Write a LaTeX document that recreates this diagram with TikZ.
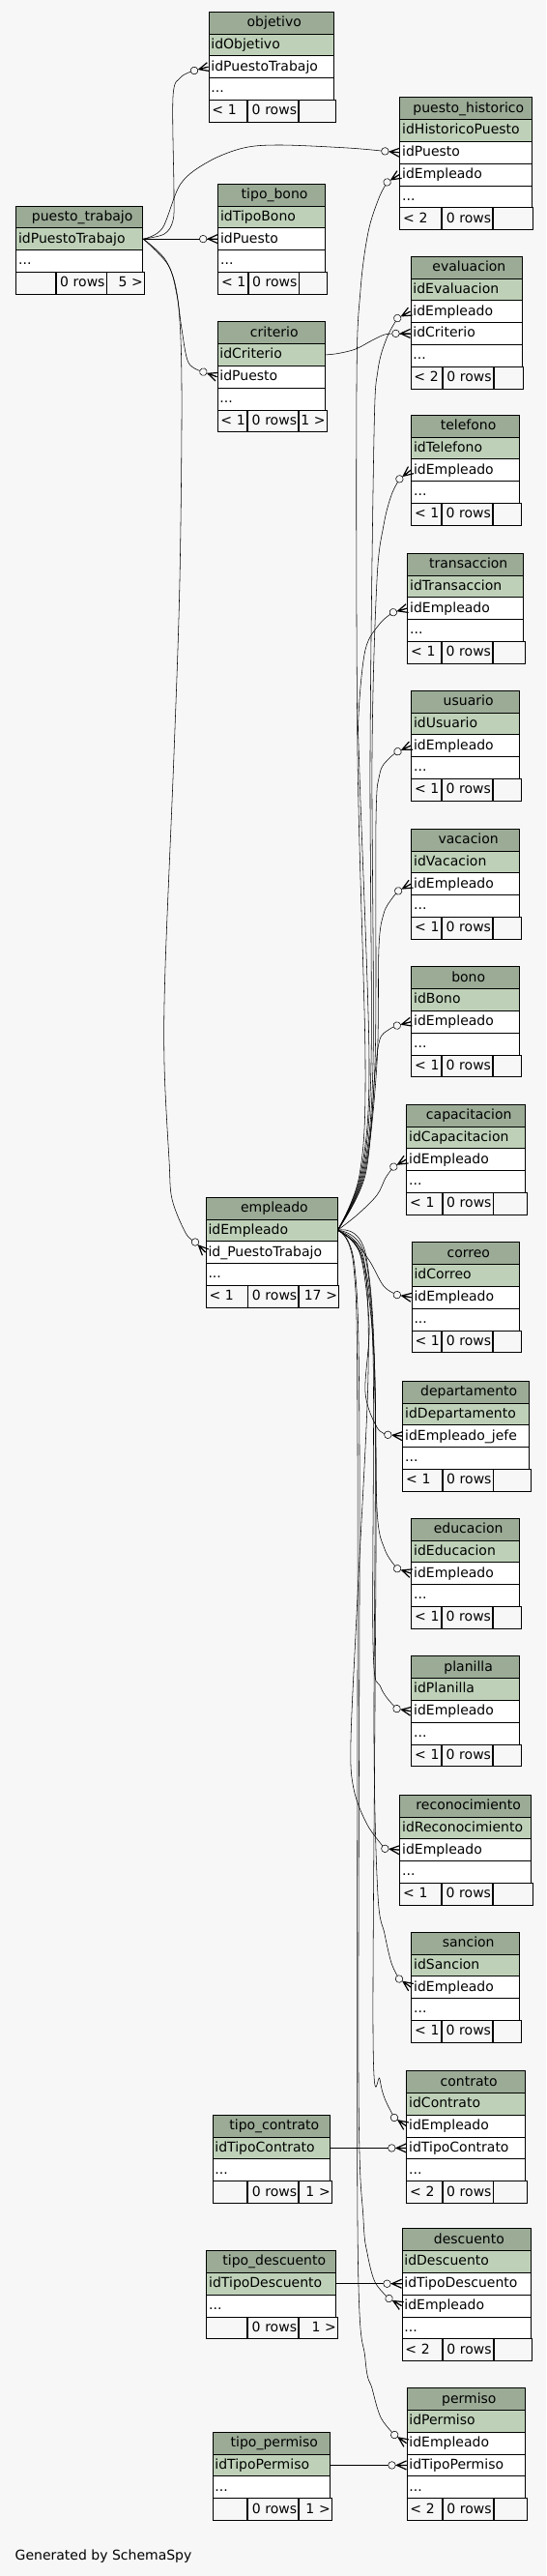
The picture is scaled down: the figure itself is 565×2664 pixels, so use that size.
\documentclass[tikz,border=0pt]{standalone}
\usepackage{fontspec}
\setmainfont{DejaVu Sans}
\usetikzlibrary{calc}
\definecolor{bgc}{HTML}{F7F7F7}
\definecolor{hdrc}{HTML}{9BAB96}
\definecolor{pkc}{HTML}{BED1B8}
\pgfdeclarelayer{bglayer}
\pgfdeclarelayer{edges}
\pgfsetlayers{bglayer,edges,main}

\tikzset{
  cell/.style={draw=black, line width=0.8pt, anchor=north west, minimum height=22.8,
    inner xsep=2.5pt, inner ysep=0pt, text height=11pt, text depth=3pt,
    font=\fontsize{14}{16}\selectfont},
  fcell/.style={cell, fill=bgc, inner xsep=1.5pt},
  edge/.style={line width=0.55pt, draw=black},
  crow/.style={line width=1.2pt, draw=black},
}

\newcommand{\tblhead}[6]{%
  \xdef\TBn{#1}\xdef\TBx{#2}\xdef\TBW{#4}%
  \pgfmathsetmacro{\TBw}{#4-5}\global\let\TBw\TBw
  \node[cell,fill=hdrc,align=center,text width=\TBw pt] (#1-h) at (#2,#3) {\hspace*{6pt}#5};
  \pgfmathsetmacro{\TBy}{#3+22.8}\global\let\TBy\TBy
  \node[cell,fill=pkc,align=left,text width=\TBw pt] (#1-p) at (\TBx,\TBy) {#6};
  \pgfmathsetmacro{\TBy}{\TBy+22.8}\global\let\TBy\TBy
}
\newcommand{\tblrow}[2]{%
  \node[cell,fill=white,align=left,text width=\TBw pt] (\TBn-#1) at (\TBx,\TBy) {#2};
  \pgfmathsetmacro{\TBy}{\TBy+22.8}\global\let\TBy\TBy
}
\newcommand{\tblfoot}[2]{%
  \node[cell,fill=white,align=left,text width=\TBw pt] (\TBn-d) at (\TBx,\TBy) {...};
  \pgfmathsetmacro{\TBy}{\TBy+22.8}\global\let\TBy\TBy
  \pgfmathsetmacro{\TBl}{(\TBW-52)/2+1}\global\let\TBl\TBl
  \pgfmathsetmacro{\TBr}{\TBW-52-\TBl}\global\let\TBr\TBr
  \pgfmathsetmacro{\TBlw}{\TBl-3}\global\let\TBlw\TBlw
  \pgfmathsetmacro{\TBrw}{\TBr-3}\global\let\TBrw\TBrw
  \node[fcell,align=left,text width=\TBlw pt] (\TBn-fl) at (\TBx,\TBy) {\hspace*{2pt}#1};
  \node[fcell,align=right,text width=49pt] (\TBn-fm) at (\TBn-fl.north east) {0 rows};
  \node[fcell,align=right,text width=\TBrw pt] (\TBn-fr) at (\TBn-fm.north east) {#2};
}
\newcommand{\fk}[4]{%
  \coordinate (#1) at ($(#2)+(#3+180:15)$);
  \begin{pgfonlayer}{edges}
    \draw[edge] plot[smooth,tension=0.55] coordinates {#4 (#1)};
    \draw[edge] (#1) -- (#2);
  \end{pgfonlayer}
  \begin{scope}[shift={(#2)},rotate={-1*(#3)}]
    \draw[crow] (-10,0) -- (0,4.5) (-10,0) -- (0,0) (-10,0) -- (0,-4.5);
    \draw[edge,fill=bgc] (-15,0) circle[radius=3.8];
  \end{scope}
}

\begin{document}
\begin{tikzpicture}[x=1pt,y=-1pt]
\begin{pgfonlayer}{bglayer}
\fill[bgc] (0,0) rectangle (565,2664);
\end{pgfonlayer}
\useasboundingbox (0,0) rectangle (565,2664);

% tables
\tblhead{ob}{215.5}{11.7}{129.7}{objetivo}{idObjetivo}
\tblrow{1}{idPuestoTrabajo}
\tblfoot{< 1}{}

\tblhead{ph}{413.3}{100.3}{136.2}{puesto\_historico}{idHistoricoPuesto}
\tblrow{1}{idPuesto}
\tblrow{2}{idEmpleado}
\tblfoot{< 2}{}

\tblhead{tb}{225.2}{189.7}{111}{tipo\_bono}{idTipoBono}
\tblrow{1}{idPuesto}
\tblfoot{< 1}{}

\tblhead{pt}{16.2}{212.5}{131.2}{puesto\_trabajo}{idPuestoTrabajo}
\tblfoot{}{5 >}

\tblhead{ev}{424.5}{264.7}{115}{evaluacion}{idEvaluacion}
\tblrow{1}{idEmpleado}
\tblrow{2}{idCriterio}
\tblfoot{< 2}{}

\tblhead{cr}{224.5}{332.3}{111.7}{criterio}{idCriterio}
\tblrow{1}{idPuesto}
\tblfoot{< 1}{1 >}

\tblhead{te}{425.2}{428.7}{112.1}{telefono}{idTelefono}
\tblrow{1}{idEmpleado}
\tblfoot{< 1}{}

\tblhead{tr}{421.3}{571.7}{120}{transaccion}{idTransaccion}
\tblrow{1}{idEmpleado}
\tblfoot{< 1}{}

\tblhead{us}{425.2}{713.7}{112.1}{usuario}{idUsuario}
\tblrow{1}{idEmpleado}
\tblfoot{< 1}{}

\tblhead{va}{425.3}{856.7}{112}{vacacion}{idVacacion}
\tblrow{1}{idEmpleado}
\tblfoot{< 1}{}

\tblhead{bo}{425.3}{999.3}{112}{bono}{idBono}
\tblrow{1}{idEmpleado}
\tblfoot{< 1}{}

\tblhead{ca}{420.3}{1141.7}{123}{capacitacion}{idCapacitacion}
\tblrow{1}{idEmpleado}
\tblfoot{< 1}{}

\tblhead{em}{212.6}{1237.7}{135.9}{empleado}{idEmpleado}
\tblrow{1}{id\_PuestoTrabajo}
\tblfoot{< 1}{17 >}

\tblhead{co}{425.6}{1284.3}{111.7}{correo}{idCorreo}
\tblrow{1}{idEmpleado}
\tblfoot{< 1}{}

\tblhead{de}{416.3}{1427.7}{131}{departamento}{idDepartamento}
\tblrow{1}{idEmpleado\_jefe}
\tblfoot{< 1}{}

\tblhead{ed}{425.3}{1569.7}{112}{educacion}{idEducacion}
\tblrow{1}{idEmpleado}
\tblfoot{< 1}{}

\tblhead{pl}{425.3}{1712.3}{112}{planilla}{idPlanilla}
\tblrow{1}{idEmpleado}
\tblfoot{< 1}{}

\tblhead{re}{413.3}{1855.7}{136}{reconocimiento}{idReconocimiento}
\tblrow{1}{idEmpleado}
\tblfoot{< 1}{}

\tblhead{sa}{425.3}{1997.7}{112}{sancion}{idSancion}
\tblrow{1}{idEmpleado}
\tblfoot{< 1}{}

\tblhead{ct}{420.3}{2141.2}{123}{contrato}{idContrato}
\tblrow{1}{idEmpleado}
\tblrow{2}{idTipoContrato}
\tblfoot{< 2}{}

\tblhead{tc}{219.5}{2186.8}{121.8}{tipo\_contrato}{idTipoContrato}
\tblfoot{}{1 >}

\tblhead{ds}{415.5}{2304.3}{133}{descuento}{idDescuento}
\tblrow{1}{idTipoDescuento}
\tblrow{2}{idEmpleado}
\tblfoot{< 2}{}

\tblhead{td}{213.3}{2327.1}{134.1}{tipo\_descuento}{idTipoDescuento}
\tblfoot{}{1 >}

\tblhead{pe}{420.5}{2469.2}{122.9}{permiso}{idPermiso}
\tblrow{1}{idEmpleado}
\tblrow{2}{idTipoPermiso}
\tblfoot{< 2}{}

\tblhead{tp}{219.5}{2514.8}{121.8}{tipo\_permiso}{idTipoPermiso}
\tblfoot{}{1 >}

% edges from puesto_trabajo
\fk{e-ob}{ob-1.west}{-15}{(pt-p.east) (170,242) (179,228) (180,200) (179,100) (187,80)}
\fk{e-ph1}{ph-1.west}{5}{(pt-p.east) (168,236) (187,190) (216,167) (252,153) (290,150) (360,153)}
\fk{e-tb}{tb-1.west}{0}{(pt-p.east)}
\fk{e-cr}{cr-1.west}{20}{(pt-p.east) (174,274) (183,305) (188,340) (195,375)}
\fk{e-em}{em-1.west}{45}{(pt-p.east) (172,270) (184,310) (188,400) (186,600) (180,780) (171,1000) (170,1100) (175,1200) (178,1240) (192,1275)}
% criterio -> evaluacion
\fk{e-ev2}{ev-2.west}{0}{(cr-p.east) (350,365.5) (368,361) (385,352) (398,346)}
% edges from empleado (upwards)
\fk{e-ph2}{ph-2.west}{-32}{(em-p.east) (372,1215) (378,1100) (370,780) (369,400) (373,300) (381,240) (392,205)}
\fk{e-ev1}{ev-1.west}{-28}{(em-p.east) (374,1215) (384,1100) (383,780) (387,450) (391,383) (400,350)}
\fk{e-te}{te-1.west}{-38}{(em-p.east) (375,1215) (386,1100) (385,780) (390,600) (397,543) (405,512)}
\fk{e-tr}{tr-1.west}{-16}{(em-p.east) (373,1215) (382,1100) (372,800) (371,740) (378,672) (393,645)}
\fk{e-us}{us-1.west}{-24}{(em-p.east) (376,1215) (388,1100) (389,850) (393,800) (402,785)}
\fk{e-va}{va-1.west}{-29}{(em-p.east) (377,1215) (390,1100) (392,980) (397,945) (405,930)}
\fk{e-bo}{bo-1.west}{-15}{(em-p.east) (378,1215) (388,1110) (393,1075) (402,1065)}
\fk{e-ca}{ca-1.west}{-30}{(em-p.east) (370,1256) (390,1236) (399,1218)}
% edges from empleado (downwards)
\fk{e-co}{co-1.west}{10}{(em-p.east) (368,1285) (383,1305) (397,1330)}
\fk{e-de}{de-1.west}{5}{(em-p.east) (372,1295) (382,1370) (378,1440) (390,1476)}
\fk{e-ed}{ed-1.west}{19}{(em-p.east) (374,1300) (387,1400) (390,1560) (398,1602)}
\fk{e-pl}{pl-1.west}{10}{(em-p.east) (375,1300) (386,1400) (386,1700) (394,1745)}
\fk{e-re}{re-1.west}{5}{(em-p.east) (376,1300) (381,1420) (370,1650) (363,1800) (366,1850) (380,1887)}
\fk{e-sa}{sa-1.west}{35}{(em-p.east) (378,1300) (388,1450) (387,1800) (391,1960) (398,2000) (405,2030)}
\fk{e-ct}{ct-1.west}{35}{(em-p.east) (379,1300) (389,1500) (386,2100) (393,2150) (398,2170)}
\fk{e-ds}{ds-2.west}{30}{(em-p.east) (367,1310) (372,1500) (371,2150) (376,2295) (380,2330) (388,2360)}
\fk{e-pe}{pe-1.west}{35}{(em-p.east) (366,1310) (370,1500) (370,2300) (378,2440) (385,2470) (394,2500)}
% type tables
\fk{e-ctc}{ct-2.west}{0}{(tc-p.east)}
\fk{e-dst}{ds-1.west}{0}{(td-p.east)}
\fk{e-pet}{pe-2.west}{0}{(tp-p.east)}

\node[anchor=base west, inner sep=0pt, font=\fontsize{14}{16}\selectfont] (gen) at (15.5,2647) {Generated by SchemaSpy};
\end{tikzpicture}
\end{document}
